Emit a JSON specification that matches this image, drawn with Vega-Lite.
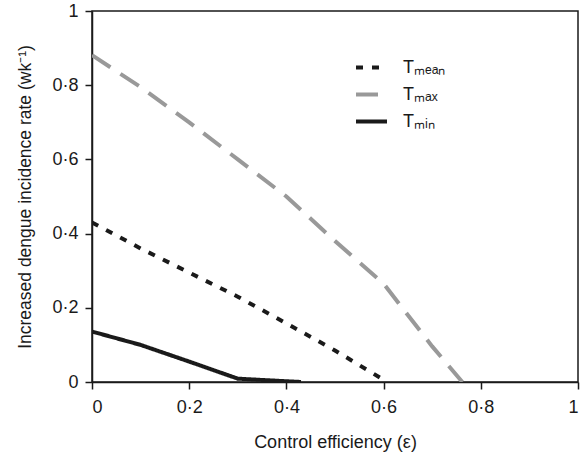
{
  "$schema": "https://vega.github.io/schema/vega-lite/v6.json",
  "width": 486,
  "height": 371,
  "autosize": "none",
  "padding": {"left": 92, "top": 11, "right": 7, "bottom": 73},
  "background": "white",
  "config": {
    "font": "Liberation Sans",
    "view": {"stroke": "#1a1a1a", "strokeWidth": 1.5},
    "axis": {
      "domainColor": "#1a1a1a",
      "domainWidth": 1.5,
      "tickColor": "#1a1a1a",
      "tickWidth": 1.5,
      "tickSize": 7,
      "labelFont": "Liberation Sans",
      "labelFontSize": 18,
      "labelColor": "#1a1a1a",
      "titleFont": "Liberation Sans",
      "titleFontSize": 18,
      "titleFontWeight": "normal",
      "titleColor": "#1a1a1a",
      "grid": false
    }
  },
  "data": {
    "values": [
      {"e": 0.0, "v": 0.43, "s": "Tmean"},
      {"e": 0.1, "v": 0.36, "s": "Tmean"},
      {"e": 0.2, "v": 0.295, "s": "Tmean"},
      {"e": 0.3, "v": 0.23, "s": "Tmean"},
      {"e": 0.4, "v": 0.158, "s": "Tmean"},
      {"e": 0.5, "v": 0.085, "s": "Tmean"},
      {"e": 0.6, "v": 0.006, "s": "Tmean"},
      {"e": 0.0, "v": 0.881, "s": "Tmax"},
      {"e": 0.1, "v": 0.795, "s": "Tmax"},
      {"e": 0.2, "v": 0.7, "s": "Tmax"},
      {"e": 0.3, "v": 0.6, "s": "Tmax"},
      {"e": 0.4, "v": 0.5, "s": "Tmax"},
      {"e": 0.5, "v": 0.38, "s": "Tmax"},
      {"e": 0.6, "v": 0.265, "s": "Tmax"},
      {"e": 0.7, "v": 0.096, "s": "Tmax"},
      {"e": 0.762, "v": 0.0, "s": "Tmax"},
      {"e": 0.0, "v": 0.136, "s": "Tmin"},
      {"e": 0.1, "v": 0.1, "s": "Tmin"},
      {"e": 0.2, "v": 0.055, "s": "Tmin"},
      {"e": 0.3, "v": 0.009, "s": "Tmin"},
      {"e": 0.4, "v": 0.002, "s": "Tmin"},
      {"e": 0.43, "v": 0.0, "s": "Tmin"}
    ]
  },
  "mark": {"type": "line", "strokeCap": "butt", "clip": true},
  "encoding": {
    "x": {
      "field": "e", "type": "quantitative",
      "scale": {"domain": [0, 1], "nice": false},
      "axis": {
        "values": [0, 0.2, 0.4, 0.6, 0.8, 1],
        "labelExpr": "replace(format(datum.value, '~g'), '.', '·')",
        "labelPadding": 9,
        "title": "Control efficiency (ε)",
        "titlePadding": 17
      }
    },
    "y": {
      "field": "v", "type": "quantitative",
      "scale": {"domain": [0, 1], "nice": false},
      "axis": {
        "values": [0, 0.2, 0.4, 0.6, 0.8, 1],
        "labelExpr": "replace(format(datum.value, '~g'), '.', '·')",
        "labelPadding": 7,
        "title": "Increased dengue incidence rate (wk⁻¹)",
        "titleFontSize": 17.5,
        "titlePadding": 17
      }
    },
    "color": {
      "field": "s", "type": "nominal",
      "scale": {"domain": ["Tmean", "Tmax", "Tmin"], "range": ["#1a1a1a", "#999999", "#1a1a1a"]},
      "legend": {
        "orient": "none",
        "legendX": 262,
        "legendY": 39,
        "title": null,
        "symbolType": "stroke",
        "symbolSize": 961,
        "symbolStrokeWidth": 2.5,
        "labelFontSize": 18,
        "labelFont": "Liberation Sans",
        "labelColor": "#1a1a1a",
        "labelOffset": 14,
        "rowPadding": 0,
        "labelExpr": "datum.value == 'Tmean' ? 'Tₘₑₐₙ' : datum.value == 'Tmax' ? 'Tₘₐₓ' : 'Tₘᵢₙ'"
      }
    },
    "strokeDash": {
      "field": "s", "type": "nominal",
      "scale": {"domain": ["Tmean", "Tmax", "Tmin"], "range": [[7, 9], [22, 12], [1, 0]]},
      "legend": null
    },
    "strokeWidth": {
      "field": "s", "type": "nominal",
      "scale": {"domain": ["Tmean", "Tmax", "Tmin"], "range": [4, 4, 2.8]},
      "legend": null
    }
  }
}
